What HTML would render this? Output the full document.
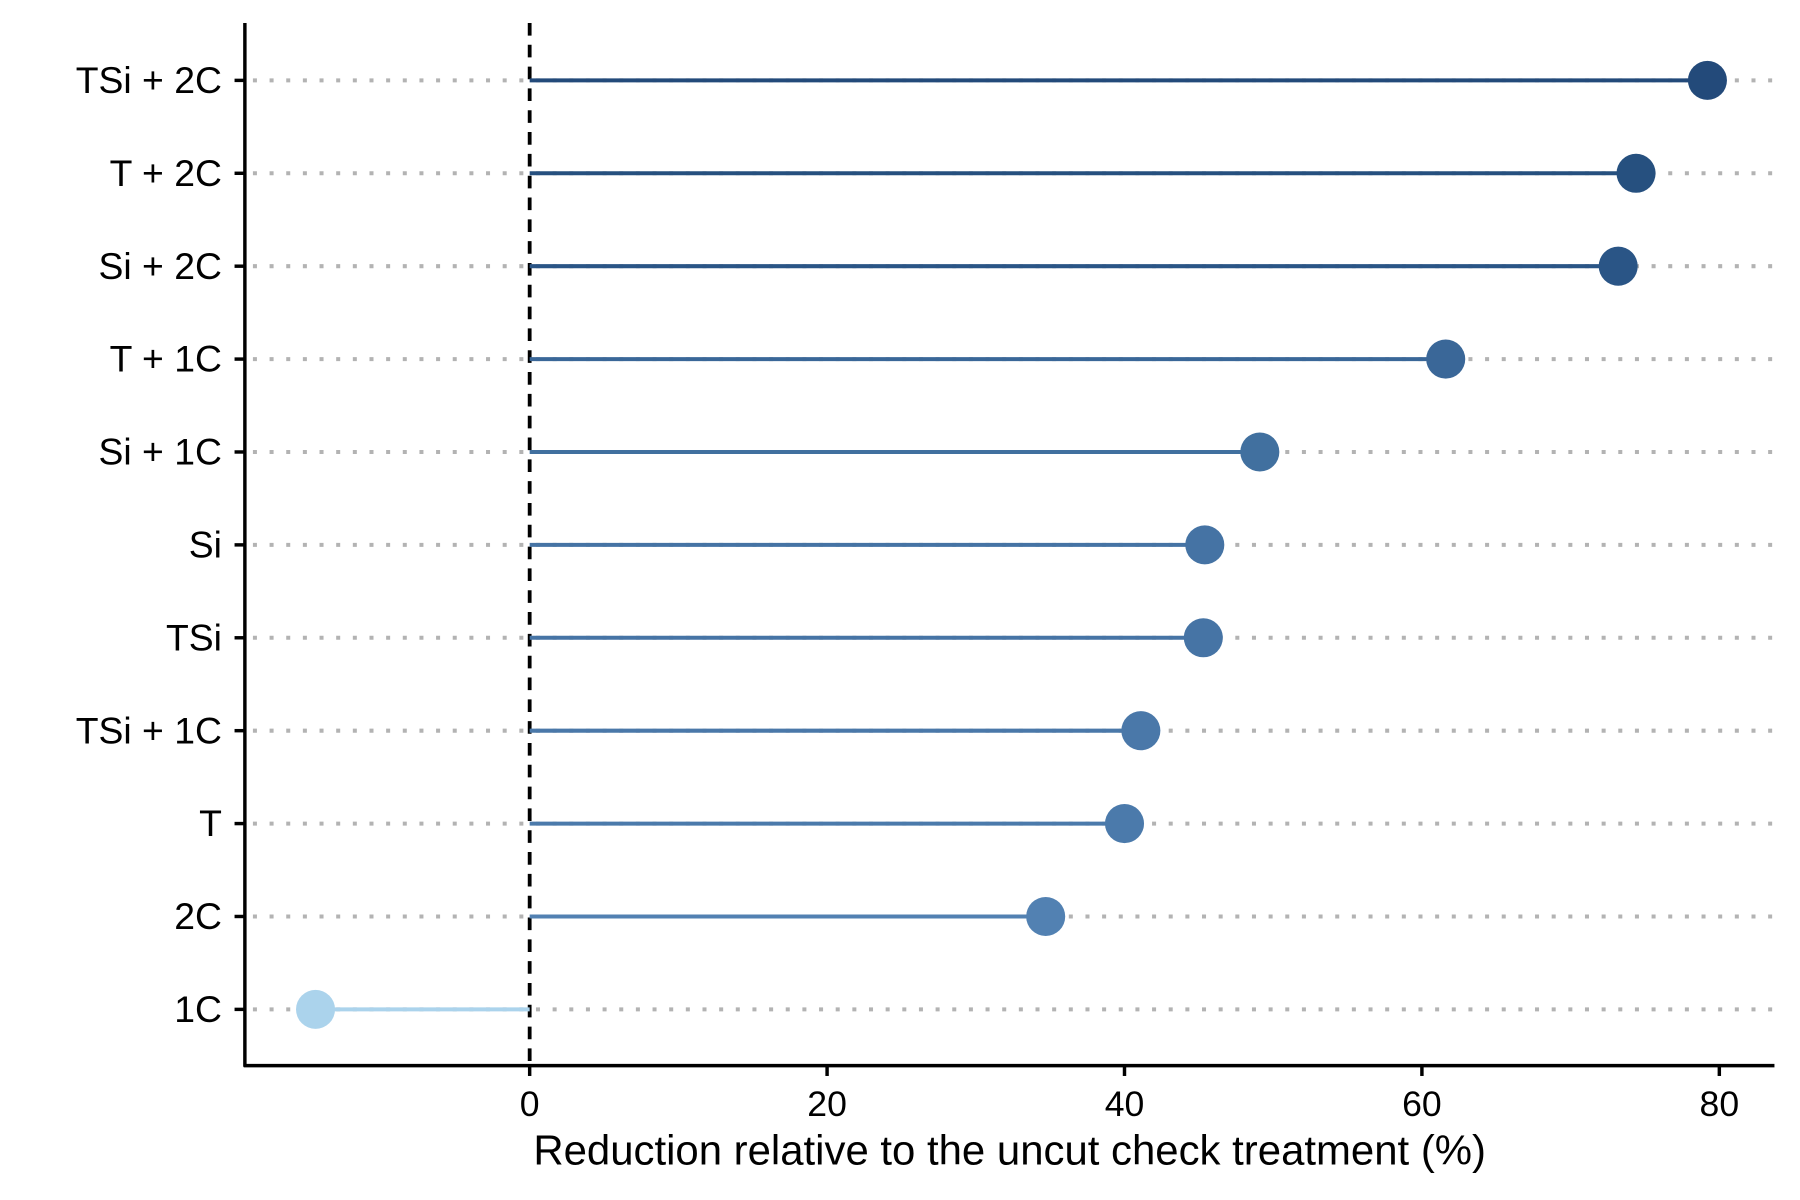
<!DOCTYPE html>
<html><head><meta charset="utf-8"><style>
html,body{margin:0;padding:0;background:#fff;}
svg{display:block;}
text{font-family:"Liberation Sans",sans-serif;fill:#000;}
</style></head><body>
<svg id="chart" width="1800" height="1200" viewBox="0 0 1567 1045">
<g id="grid"></g>
<line x1="461" y1="20" x2="461" y2="928" stroke="#000" stroke-width="3.3" stroke-dasharray="11,8"/>
<g id="marks"></g>
<line x1="213" y1="20" x2="213" y2="929" stroke="#000" stroke-width="3"/>
<line x1="212" y1="928" x2="1545" y2="928" stroke="#000" stroke-width="3"/>
<g id="yaxis"></g>
<g id="xaxis"></g>
<text x="879" y="1014" font-size="36.5" text-anchor="middle">Reduction relative to the uncut check treatment (%)</text>
</svg>
<script>
const categories = ["TSi + 2C","T + 2C","Si + 2C","T + 1C","Si + 1C","Si","TSi","TSi + 1C","T","2C","1C"];
const values = [79.2,74.4,73.2,61.6,49.1,45.4,45.3,41.1,40.0,34.7,-14.4];
const colors = ["#234a7a","#26507f","#2a5586","#3a6798","#41709f","#4573a4","#4674a5","#4a78a9","#4b7aab","#5281b2","#abd3ec"];
const xTicks = [0,20,40,60,80];
const NS="http://www.w3.org/2000/svg";
function xs(v){return 461+v*(1497-461)/80;}
function ys(i){return 70+i*(879-70)/10;}
function mk(tag,attrs,parent){const e=document.createElementNS(NS,tag);for(const k in attrs)e.setAttribute(k,attrs[k]);parent.appendChild(e);return e;}
const grid=document.getElementById('grid'),marks=document.getElementById('marks'),ya=document.getElementById('yaxis'),xa=document.getElementById('xaxis');
categories.forEach((c,i)=>{
  const y=ys(i);
  const g=mk('line',{x1:220,y1:y,x2:1545,y2:y,stroke:'#b3b3b3','stroke-width':3.5,'stroke-dasharray':'3.5,11'},grid);
  
  
  const s=mk('line',{x1:xs(0),y1:y,x2:xs(values[i]),y2:y,stroke:colors[i],'stroke-width':3.5},marks);
  
  
  const p=mk('circle',{cx:xs(values[i]),cy:y,r:17,fill:colors[i]},marks);
  
  
  const t=mk('line',{x1:204,y1:y,x2:213,y2:y,stroke:'#000','stroke-width':3},ya);
  
  
  const l=mk('text',{x:193,y:y+11,'font-size':32.5,'text-anchor':'end'},ya);
  l.textContent=c;
  
  
});
xTicks.forEach(v=>{
  const x=xs(v);
  const t=mk('line',{x1:x,y1:928,x2:x,y2:937,stroke:'#000','stroke-width':3},xa);
  
  
  const l=mk('text',{x:x,y:972,'font-size':31,'text-anchor':'middle'},xa);
  l.textContent=v;
  
  
});
</script>
</body></html>
